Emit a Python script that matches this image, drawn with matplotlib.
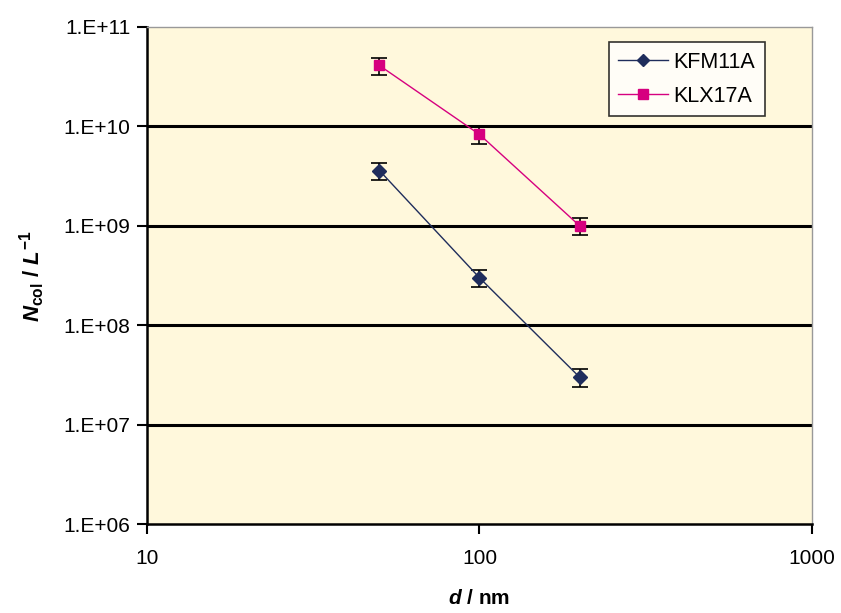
import numpy as np
import matplotlib.pyplot as plt
from matplotlib.lines import Line2D
from matplotlib.ticker import FixedLocator, FuncFormatter, NullLocator

plt.rcParams['font.family'] = ['Liberation Sans', 'DejaVu Sans']
plt.rcParams['mathtext.fontset'] = 'custom'
plt.rcParams['mathtext.rm'] = 'Liberation Sans:bold'
plt.rcParams['mathtext.it'] = 'Liberation Sans:bold:italic'
plt.rcParams['mathtext.bf'] = 'Liberation Sans:bold'

# diameters (nm) and colloid concentrations (1/L)
d_nm = [50, 100, 200]
kfm11a = [3.6e9, 3.0e8, 3.0e7]
klx17a = [4.1e10, 8.3e9, 1.0e9]
rel_err = 0.2  # relative error bars

c_kfm = '#1F2D5C'
c_klx = '#D6007F'

fig = plt.figure(figsize=(8.41, 6.13), dpi=100)
ax = fig.add_axes([147 / 841, 1 - 524 / 613, 665 / 841, 497 / 613])
ax.set_facecolor('#FFF8DC')

ax.set_xscale('log')
ax.set_yscale('log')
ax.set_xlim(10, 1000)
ax.set_ylim(1e6, 1e11)

for y in [1e7, 1e8, 1e9, 1e10]:
    ax.axhline(y, color='black', lw=2.2, zorder=1)

ax.errorbar(d_nm, kfm11a, yerr=np.array(kfm11a) * rel_err, color=c_kfm,
            marker='D', ms=7, lw=1, ecolor='black', elinewidth=1.2, capsize=6,
            capthick=1.2, zorder=3)
ax.errorbar(d_nm, klx17a, yerr=np.array(klx17a) * rel_err, color=c_klx,
            marker='s', ms=7.5, lw=1, ecolor='black', elinewidth=1.2, capsize=6,
            capthick=1.2, zorder=3)

ax.xaxis.set_major_locator(FixedLocator([10, 100, 1000]))
ax.xaxis.set_minor_locator(NullLocator())
ax.yaxis.set_major_locator(FixedLocator([1e6, 1e7, 1e8, 1e9, 1e10, 1e11]))
ax.yaxis.set_minor_locator(NullLocator())
ax.xaxis.set_major_formatter(FuncFormatter(lambda v, p: f'{v:g}'))
ax.yaxis.set_major_formatter(FuncFormatter(lambda v, p: f'1.E+{int(round(np.log10(v))):02d}'))
ax.tick_params(direction='out', length=7, width=1.5, labelsize=15, pad=5)
ax.tick_params(axis='x', pad=11)

for s in ['left', 'bottom']:
    ax.spines[s].set_linewidth(1.8)
for s in ['top', 'right']:
    ax.spines[s].set_color('#999999')
    ax.spines[s].set_linewidth(1)

ax.set_xlabel(r'$d$ / nm', fontsize=15, fontweight='bold', labelpad=15)
ax.set_ylabel(r'$N_{\mathrm{col}}$ / $L^{\mathrm{-1}}$', fontsize=16,
              fontweight='bold', labelpad=12)

handles = [Line2D([], [], color=c_kfm, marker='D', ms=6.5, lw=1),
           Line2D([], [], color=c_klx, marker='s', ms=7, lw=1)]
leg = ax.legend(handles, ['KFM11A', 'KLX17A'], loc='upper right',
                bbox_to_anchor=(0.929, 0.97), fontsize=15.5, frameon=True,
                fancybox=False, edgecolor='black', handlelength=2.3,
                handletextpad=0.25, borderpad=0.45, labelspacing=0.6,
                borderaxespad=0)
leg.get_frame().set_linewidth(1.2)
leg.get_frame().set_facecolor('white')

fig.savefig('out.png', dpi=100)
